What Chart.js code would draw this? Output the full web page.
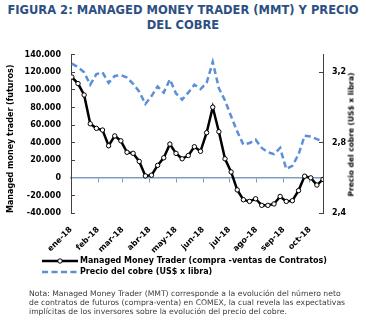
<!DOCTYPE html>
<html>
<head>
<meta charset="utf-8">
<script src="https://cdn.jsdelivr.net/npm/chart.js@4.4.1/dist/chart.umd.min.js"></script>
<style>
  body { margin: 0; width: 366px; height: 324px; background: #fff; position: relative; overflow: hidden; font-family: 'DejaVu Sans', sans-serif; }
  #title { position: absolute; top: 3px; left: 0; width: 366px; text-align: center; font-weight: bold; font-size: 11.5px; line-height: 15px; color: #2d5084; white-space: nowrap; }
  #wrap { position: absolute; top: 36px; left: 0; width: 366px; height: 222px; }
  #rtitle { position: absolute; left: 286px; top: 129px; width: 130px; height: 11px; line-height: 11px; text-align: center; font-weight: bold; font-size: 7.5px; color: #000; transform: rotate(-90deg); transform-origin: 50% 50%; white-space: nowrap; }
  #legend { position: absolute; left: 42px; top: 255px; font-weight: bold; font-size: 8px; line-height: 11px; color: #000; }
  #legend div { display: flex; align-items: center; white-space: nowrap; }
  #legend svg { margin-right: 2px; }
  #note { position: absolute; left: 29px; top: 289px; font-size: 7.7px; line-height: 9px; color: #3a3a3a; white-space: nowrap; }
</style>
</head>
<body>
<div id="title">FIGURA 2: MANAGED MONEY TRADER (MMT) Y PRECIO<br>DEL COBRE</div>
<div id="wrap"><canvas id="chart" width="366" height="222"></canvas></div>
<div id="rtitle">Precio del cobre (US$ x libra)</div>
<div id="legend">
  <div><svg width="36" height="10"><line x1="0" y1="5" x2="36" y2="5" stroke="#000" stroke-width="2.5"/><circle cx="18" cy="5" r="2.2" fill="#fff" stroke="#000" stroke-width="1"/></svg>Managed Money Trader (compra -ventas de Contratos)</div>
  <div><svg width="36" height="10"><line x1="0" y1="5" x2="36" y2="5" stroke="#5b8fd6" stroke-width="2.5" stroke-dasharray="6 3.5"/></svg>Precio del cobre (US$ x libra)</div>
</div>
<div id="note">Nota: Managed Money Trader (MMT) corresponde a la evolución del número neto<br>de contratos de futuros (compra-venta) en COMEX, la cual revela las expectativas<br>implícitas de los inversores sobre la evolución del precio del cobre.</div>

<script>
// semanas (día del año 2018, martes de cada semana)
const weekDays = [1, 8, 15, 22, 29, 36, 43, 50, 57, 64, 71, 78, 85, 92, 99, 106, 113, 120, 127, 134, 141,
  148, 155, 162, 169, 176, 183, 190, 197, 204, 211, 218, 225, 232, 239, 246, 253, 260, 267, 274, 281, 288];

// posición neta MMT (contratos)
const mmtNet = [114700, 107300, 94300, 61500, 56300, 54400, 36500, 47700, 42100, 29100, 27900, 18700, 2200, 3000,
  14200, 22800, 38400, 27900, 21700, 25400, 35400, 30200, 51400, 80400, 52500, 21700, 6700, -13700,
  -24900, -26800, -23800, -31300, -31300, -29700, -21200, -26800, -26000, -14500, 1900, 0, -8200, -1800];

// precio del cobre (US$ x libra)
const copperPrice = [3.25, 3.23, 3.20, 3.13, 3.19, 3.20, 3.14, 3.18, 3.185, 3.17, 3.135, 3.09, 3.02, 3.065,
  3.12, 3.085, 3.16, 3.08, 3.045, 3.085, 3.13, 3.105, 3.14, 3.26, 3.11, 3.04, 2.95, 2.863,
  2.789, 2.798, 2.817, 2.77, 2.746, 2.735, 2.77, 2.65, 2.668, 2.733, 2.84, 2.835, 2.82, 2.807];

// ejes
const monthStartDays = [0, 31, 59, 90, 120, 151, 181, 212, 243, 273];
const monthLabels = ['ene-18', 'feb-18', 'mar-18', 'abr-18', 'may-18', 'jun-18', 'jul-18', 'ago-18', 'sep-18', 'oct-18'];
const mmtTicks = [-40000, -20000, 0, 20000, 40000, 60000, 80000, 100000, 120000, 140000];
const priceTicks = [2.4, 2.8, 3.2];

const tickFont = { family: 'DejaVu Sans', size: 8, weight: 'bold' };
const axisGray = '#404040';
const zeroBlue = '#7f9bbf';

const fmtMiles = v => String(v).replace(/\B(?=(\d{3})+(?!\d))/g, '.');
const monthTicks = s => { s.ticks = monthStartDays.map(v => ({ value: v })); };

new Chart(document.getElementById('chart'), {
  type: 'line',
  data: {
    datasets: [
      {
        label: 'Managed Money Trader (compra -ventas de Contratos)',
        data: weekDays.map((d, i) => ({ x: d, y: mmtNet[i] })),
        yAxisID: 'y',
        borderColor: '#000',
        borderWidth: 2.5,
        pointRadius: 2.2,
        pointBackgroundColor: '#fff',
        pointBorderColor: '#000',
        pointBorderWidth: 1,
        tension: 0
      },
      {
        label: 'Precio del cobre (US$ x libra)',
        data: weekDays.map((d, i) => ({ x: d, y: copperPrice[i] })),
        yAxisID: 'y1',
        borderColor: '#5b8fd6',
        borderWidth: 2.5,
        borderDash: [6, 3.5],
        pointRadius: 0,
        tension: 0
      }
    ]
  },
  options: {
    responsive: false,
    animation: false,
    layout: { padding: { top: 16, left: 0, right: 0, bottom: 0 } },
    plugins: { legend: { display: false }, tooltip: { enabled: false } },
    scales: {
      x: {
        type: 'linear', min: 0, max: 288, position: 'bottom',
        afterBuildTicks: monthTicks,
        afterFit: s => { s.height = 45; },
        ticks: { callback: v => monthLabels[monthStartDays.indexOf(v)], maxRotation: 45, minRotation: 45, font: tickFont, color: '#000', padding: 4 },
        grid: { display: false },
        border: { display: false }
      },
      x0: {
        type: 'linear', min: 0, max: 288, position: { y: 0 },
        afterBuildTicks: monthTicks,
        ticks: { display: false },
        grid: { drawOnChartArea: false, tickLength: 4, color: zeroBlue, lineWidth: 1 },
        border: { color: zeroBlue, width: 1.5 }
      },
      y: {
        position: 'left', min: -40000, max: 140000,
        afterBuildTicks: s => { s.ticks = mmtTicks.map(v => ({ value: v })); },
        afterFit: s => { s.width = 71; },
        ticks: { callback: v => fmtMiles(v), font: tickFont, color: '#000', padding: 14 },
        grid: { drawOnChartArea: false, tickLength: -4, color: axisGray },
        border: { color: axisGray, width: 1 },
        title: { display: true, text: 'Managed money trader (futuros)', align: 'start', color: '#000', font: { family: 'DejaVu Sans', size: 8, weight: 'bold' }, padding: { top: 6, bottom: 0 } }
      },
      y1: {
        position: 'right', min: 2.4, max: 3.3,
        afterBuildTicks: s => { s.ticks = priceTicks.map(v => ({ value: v })); },
        afterFit: s => { s.width = 43; },
        ticks: { callback: v => v.toFixed(1).replace('.', ','), font: tickFont, color: '#000', padding: 13 },
        grid: { drawOnChartArea: false, tickLength: -4, color: axisGray },
        border: { color: axisGray, width: 1 }
      }
    }
  }
});
</script>
</body>
</html>
